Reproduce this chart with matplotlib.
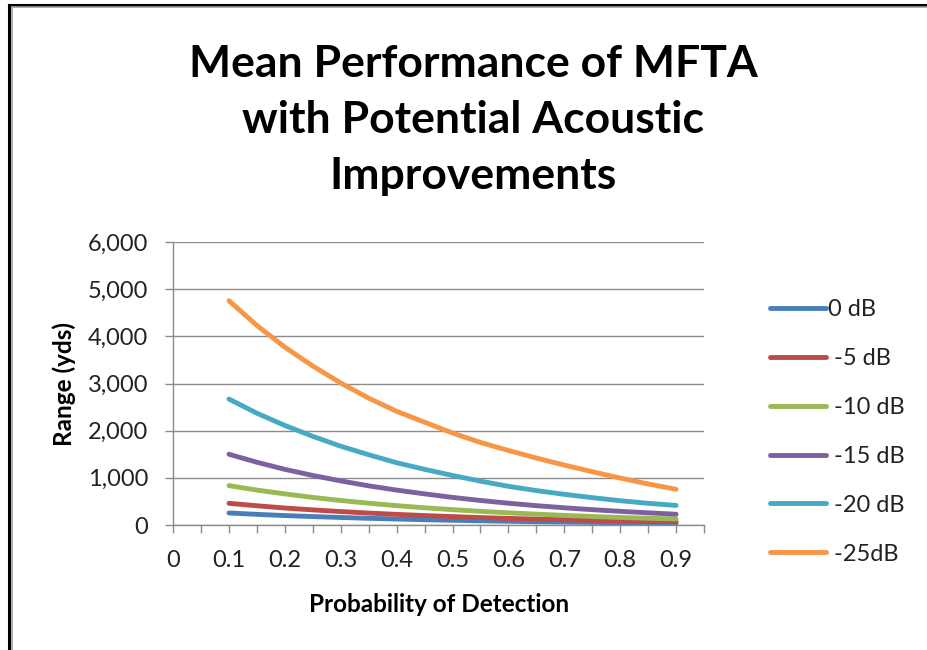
import matplotlib
matplotlib.use("Agg")
import matplotlib.pyplot as plt
from matplotlib.ticker import FuncFormatter, MultipleLocator
from matplotlib.lines import Line2D

plt.rcParams['font.family'] = ['Lato', 'DejaVu Sans']

# Data
pd_values = [0.10, 0.15, 0.20, 0.25, 0.30, 0.35, 0.40, 0.45, 0.50,
             0.55, 0.60, 0.65, 0.70, 0.75, 0.80, 0.85, 0.90]
series_labels = ["0 dB", " -5 dB", " -10 dB", " -15 dB", " -20 dB", " -25dB"]
range_0db = [255, 226, 200, 179, 160, 142, 127, 112, 100, 89, 79, 70, 63, 56, 50, 45, 40]
range_m5db = [460, 408, 360, 320, 285, 253, 225, 200, 178, 158, 140, 125, 112, 99, 88, 78, 70]
range_m10db = [835, 740, 660, 585, 520, 462, 410, 365, 325, 290, 258, 230, 204, 180, 160, 143, 128]
range_m15db = [1500, 1330, 1180, 1050, 935, 830, 740, 660, 585, 520, 462, 410, 365, 325, 290, 258, 228]
range_m20db = [2670, 2370, 2110, 1880, 1670, 1490, 1320, 1180, 1050, 930, 820, 730, 650, 580, 515, 460, 415]
range_m25db = [4755, 4230, 3770, 3370, 3010, 2690, 2410, 2180, 1950, 1750, 1580, 1420, 1270, 1130, 995, 870, 757]
x_tick_labels = ["0", "0.1", "0.2", "0.3", "0.4", "0.5", "0.6", "0.7", "0.8", "0.9"]

colors = ["#4A7EBB", "#BE4B48", "#98B954", "#7D60A0", "#46AAC5", "#F79646"]
all_series = [range_0db, range_m5db, range_m10db, range_m15db, range_m20db, range_m25db]

fig = plt.figure(figsize=(9.28, 6.5), dpi=100)
fig.patch.set_facecolor("white")

# outer chart border (left and top visible)
fig.add_artist(Line2D([0.0095, 0.0095], [0, 0.993], transform=fig.transFigure,
                      color="black", lw=2.2))
fig.add_artist(Line2D([0.0095, 1.0], [0.993, 0.993], transform=fig.transFigure,
                      color="black", lw=2.2))
fig.add_artist(Line2D([0.0125, 0.0125], [0, 0.989], transform=fig.transFigure,
                      color="#a0a0a0", lw=1.2))
fig.add_artist(Line2D([0.0125, 1.0], [0.989, 0.989], transform=fig.transFigure,
                      color="#a0a0a0", lw=1.2))

ax = fig.add_axes([0.1865, 0.1923, 0.5722, 0.4354])

for vals, lab, c in zip(all_series, series_labels, colors):
    ax.plot(pd_values, vals, color=c, lw=3.5, solid_capstyle="round",
            solid_joinstyle="round", label=lab)

ax.set_xlim(0, 0.95)
ax.set_ylim(0, 6000)
ax.yaxis.set_major_locator(MultipleLocator(1000))
ax.yaxis.set_major_formatter(FuncFormatter(lambda v, p: f"{int(v):,}"))
ax.set_xticks([i * 0.05 for i in range(20)])
ax.set_xticklabels([x_tick_labels[i // 2] if i % 2 == 0 else "" for i in range(20)])
ax.grid(axis="y", color="#8c8c8c", lw=1.0)
ax.set_axisbelow(True)

for side in ["top", "right"]:
    ax.spines[side].set_visible(False)
for side in ["left", "bottom"]:
    ax.spines[side].set_color("#8c8c8c")
    ax.spines[side].set_linewidth(1.0)

ax.tick_params(axis="both", colors="#8c8c8c", labelcolor="#222222",
               labelsize=17, length=6, width=1.0, direction="out")
ax.tick_params(axis="x", pad=12)
ax.tick_params(axis="y", pad=12)

ax.set_xlabel("Probability of Detection", fontsize=17.5, fontweight="bold",
              labelpad=16)
ax.set_ylabel("Range (yds)", fontsize=17.5, fontweight="bold", labelpad=8)

fig.text(0.51, 0.932, "Mean Performance of MFTA\nwith Potential Acoustic\nImprovements",
         ha="center", va="top", fontsize=32, fontweight="bold", linespacing=1.48)

leg = ax.legend(loc="upper left", bbox_to_anchor=(1.1066, 0.831), frameon=False,
                fontsize=17, handlelength=2.37, handletextpad=0.1,
                labelspacing=1.18, borderaxespad=0)
for t in leg.get_texts():
    t.set_color("#222222")

fig.savefig("out.png", dpi=100)
